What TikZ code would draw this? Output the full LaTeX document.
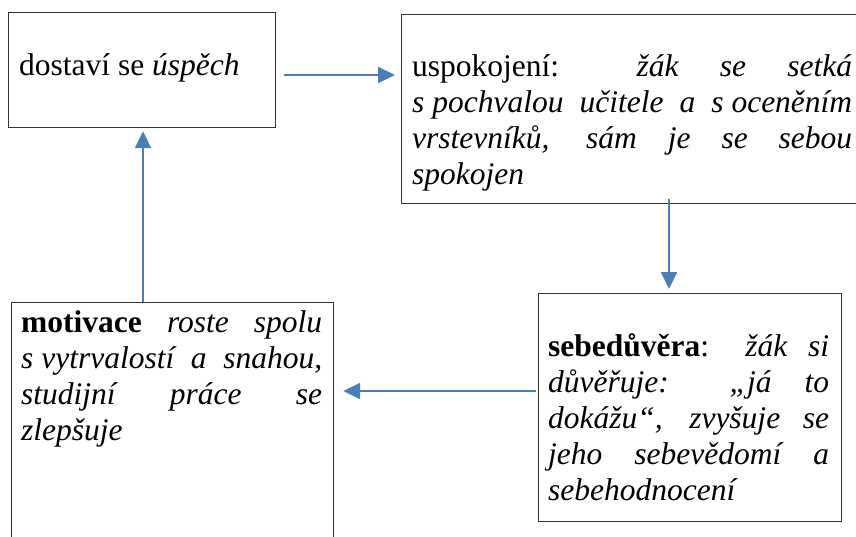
\documentclass[tikz,border=0pt]{standalone}
\usepackage{fontspec}
\setmainfont{Liberation Serif}
\usetikzlibrary{arrows.meta,calc}
\definecolor{arrowblue}{HTML}{4A7EBB}
\definecolor{boxline}{HTML}{333333}
\newcommand{\jline}[1]{\makebox[\linewidth][s]{#1}\\}
\tikzset{
  box/.style={draw=boxline, line width=1.2pt, rectangle, inner sep=0pt, anchor=north west, fill=none},
  txt/.style={anchor=base west, inner sep=0pt, font=\fontsize{31.5}{36}\selectfont},
  arr/.style={draw=arrowblue, line width=2pt, -{Triangle[length=17pt,width=16pt]}}
}
\begin{document}
\begin{tikzpicture}[x=1pt,y=-1pt]
\useasboundingbox[fill=white] (0,0) rectangle (856,536);
% boxes
\node[box, minimum width=267pt, minimum height=115pt] (b1) at (8,12) {};
\node[box, minimum width=460pt, minimum height=189pt] (b2) at (401,14) {};
\node[box, minimum width=322pt, minimum height=245pt] (b3) at (11,302) {};
\node[box, minimum width=303pt, minimum height=228pt] (b4) at (538,293) {};
% texts
\node[txt] (t1) at (19,75) {dostaví se \textit{úspěch}};
\node[txt] (t2) at (412,76) {\parbox[t]{440pt}{%
\jline{uspokojení: \textit{žák se setká}}
\jline{\textit{\mbox{s pochvalou} učitele a \mbox{s oceněním}}}
\jline{\textit{vrstevníků, sám je se sebou}}
\textit{spokojen}}};
\node[txt] (t3) at (21,332) {\parbox[t]{301pt}{%
\jline{\textbf{motivace} \textit{roste spolu}}
\jline{\textit{\mbox{s vytrvalostí} a snahou,}}
\jline{\textit{studijní práce se}}
\textit{zlepšuje}}};
\node[txt] (t4) at (548,356) {\parbox[t]{281pt}{%
\jline{\textbf{sebedůvěra}: \textit{žák si}}
\jline{\textit{důvěřuje: „já to}}
\jline{\textit{dokážu“, zvyšuje se}}
\jline{\textit{jeho sebevědomí a}}
\textit{sebehodnocení}}};
% arrows
\draw[arr] ($(b1.north east)+(8,63)$) -- ($(b2.north west)+(-6,61)$);
\draw[arr] ($(b2.south west)+(268,-5)$) -- ($(b4.north west)+(131,-4)$);
\draw[arr] ($(b4.north west)+(-2,98)$) -- ($(b3.north east)+(9,89)$);
\draw[arr] ($(b3.north west)+(132,0)$) -- ($(b1.south west)+(135,3)$);
\end{tikzpicture}
\end{document}
